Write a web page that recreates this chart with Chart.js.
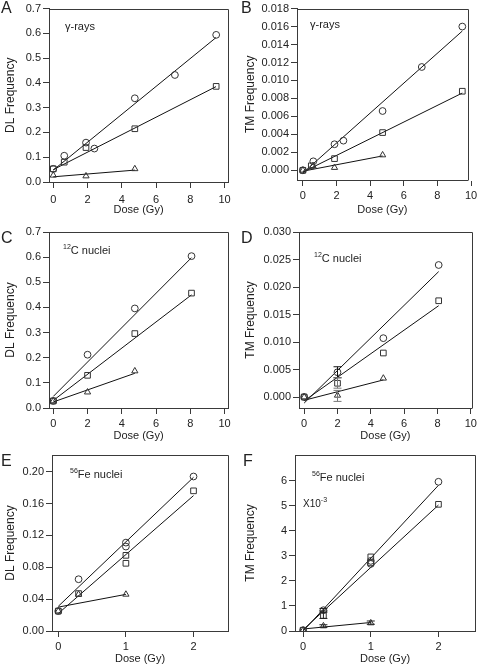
<!DOCTYPE html>
<html><head><meta charset="utf-8">
<script src="https://cdn.jsdelivr.net/npm/chart.js@4.4.1/dist/chart.umd.min.js"></script>
<style>
html,body{margin:0;padding:0;background:#fff;}
body{width:480px;height:667px;position:relative;overflow:hidden;font-family:"Liberation Sans",Arial,sans-serif;color:#222;}
.p{position:absolute;}
.lbl{position:absolute;font-size:11px;white-space:nowrap;line-height:1;}
.let{position:absolute;font-size:16px;line-height:1;}
sup{font-size:7px;vertical-align:5px;line-height:0;}
</style></head><body>
<div class="p" style="left:0;top:0;width:240px;height:218px"><canvas id="cA"></canvas></div>
<div class="p" style="left:240px;top:0;width:240px;height:218px"><canvas id="cB"></canvas></div>
<div class="p" style="left:0;top:222px;width:240px;height:222px"><canvas id="cC"></canvas></div>
<div class="p" style="left:240px;top:222px;width:240px;height:222px"><canvas id="cD"></canvas></div>
<div class="p" style="left:0;top:444px;width:240px;height:223px"><canvas id="cE"></canvas></div>
<div class="p" style="left:240px;top:444px;width:240px;height:223px"><canvas id="cF"></canvas></div>

<div class="let" style="left:1px;top:0px">A</div>
<div class="let" style="left:241px;top:0px">B</div>
<div class="let" style="left:1px;top:230px">C</div>
<div class="let" style="left:241px;top:230px">D</div>
<div class="let" style="left:1px;top:453px">E</div>
<div class="let" style="left:243px;top:453px">F</div>

<div class="lbl" style="left:65px;top:21px">γ-rays</div>
<div class="lbl" style="left:310px;top:19px">γ-rays</div>
<div class="lbl" style="left:63px;top:245px"><sup>12</sup>C nuclei</div>
<div class="lbl" style="left:314px;top:253px"><sup>12</sup>C nuclei</div>
<div class="lbl" style="left:70px;top:469px"><sup>56</sup>Fe nuclei</div>
<div class="lbl" style="left:312px;top:472px"><sup>56</sup>Fe nuclei</div>
<div class="lbl" style="left:303px;top:499px;font-size:10px">X10<sup>-3</sup></div>

<script>
// ---------- DATA ----------
// Panel A: gamma-rays, DL frequency
const doseA_circ = [0, 0.64, 1.91, 2.4, 4.76, 7.1, 9.51];
const dlA_circ   = [0.053, 0.106, 0.159, 0.135, 0.338, 0.432, 0.594];
const doseA_sq   = [0, 0.64, 1.91, 4.76, 9.51];
const dlA_sq     = [0.053, 0.080, 0.139, 0.215, 0.386];
const doseA_tri  = [0, 1.91, 4.76];
const dlA_tri    = [0.027, 0.024, 0.053];
const fitA_x     = [0, 9.5];
const fitA_circ  = [0.048, 0.583];
const fitA_sq    = [0.050, 0.385];
const fitA_triX  = [0, 4.76];
const fitA_tri   = [0.021, 0.048];

// Panel B: gamma-rays, TM frequency
const doseB_circ = [0, 0.62, 1.88, 2.41, 4.74, 7.07, 9.48];
const tmB_circ   = [0.0000, 0.0010, 0.0029, 0.0033, 0.0066, 0.0115, 0.0160];
const doseB_sq   = [0, 0.5, 1.88, 4.74, 9.48];
const tmB_sq     = [0.0000, 0.0005, 0.0013, 0.0042, 0.0088];
const doseB_tri  = [0, 0.6, 1.88, 4.74];
const tmB_tri    = [0.0000, 0.0005, 0.0003, 0.0017];
const fitB_x     = [0, 9.48];
const fitB_circ  = [-0.0003, 0.0155];
const fitB_sq    = [-0.0002, 0.0086];
const fitB_triX  = [0, 4.74];
const fitB_tri   = [-0.0001, 0.0016];

// Panel C: 12C nuclei, DL frequency
const doseC_circ = [0, 2, 4.76, 8.07];
const dlC_circ   = [0.028, 0.212, 0.396, 0.604];
const doseC_sq   = [0, 2, 4.76, 8.07];
const dlC_sq     = [0.028, 0.130, 0.296, 0.457];
const doseC_tri  = [0, 2, 4.76];
const dlC_tri    = [0.028, 0.063, 0.147];
const fitC_x     = [0, 8.07];
const fitC_circ  = [0.046, 0.598];
const fitC_sq    = [0.030, 0.450];
const fitC_triX  = [0, 4.76];
const fitC_tri   = [0.024, 0.138];

// Panel D: 12C nuclei, TM frequency
const doseD_circ = [0, 2, 4.75, 8.07];
const tmD_circ   = [0.0000, 0.0045, 0.0107, 0.0240];
const doseD_sq   = [0, 2, 4.75, 8.07];
const tmD_sq     = [0.0000, 0.0025, 0.0080, 0.0175];
const doseD_tri  = [0, 2, 4.75];
const tmD_tri    = [0.0000, 0.0003, 0.0034];
const fitD_x     = [0, 8.07];
const fitD_circ  = [-0.0011, 0.0228];
const fitD_sq    = [-0.0007, 0.0166];
const fitD_triX  = [0, 4.75];
const fitD_tri   = [-0.0006, 0.0031];
const errD_x     = [2, 2, 2];
const errD_lo    = [0.0035, 0.0016, -0.0008];
const errD_hi    = [0.0055, 0.0035, 0.0012];

// Panel E: 56Fe nuclei, DL frequency
const doseE_circ = [0, 0.3, 1, 1, 2];
const dlE_circ   = [0.025, 0.065, 0.111, 0.106, 0.194];
const doseE_sq   = [0, 0.3, 1, 1, 2];
const dlE_sq     = [0.025, 0.047, 0.095, 0.085, 0.176];
const doseE_tri  = [0, 0.3, 1];
const dlE_tri    = [0.025, 0.046, 0.046];
const fitE_x     = [0, 2];
const fitE_circ  = [0.031, 0.193];
const fitE_sq    = [0.022, 0.170];
const fitE_triX  = [0, 1];
const fitE_tri   = [0.030, 0.046];

// Panel F: 56Fe nuclei, TM frequency (x10^-3)
const doseF_circ = [0, 0.3, 1, 1, 2];
const tmF_circ   = [0.03, 0.83, 2.68, 2.80, 5.96];
const doseF_sq   = [0, 0.3, 1, 1, 2];
const tmF_sq     = [0.03, 0.62, 2.96, 2.72, 5.06];
const doseF_tri  = [0, 0.3, 1];
const tmF_tri    = [0.03, 0.20, 0.32];
const fitF_x     = [0, 2];
const fitF_circ  = [0.00, 5.82];
const fitF_sq    = [0.05, 5.03];
const fitF_triX  = [0, 1];
const fitF_tri   = [0.08, 0.34];
const errF_x     = [0.3, 0.3, 0.3, 1];
const errF_lo    = [0.75, 0.50, 0.15, 0.27];
const errF_hi    = [0.90, 0.80, 0.25, 0.40];

// Tick labels
const xTicks10  = [0, 2, 4, 6, 8, 10];
const xTicks2   = [0, 1, 2];
const yTicksA   = [0.0, 0.1, 0.2, 0.3, 0.4, 0.5, 0.6, 0.7];
const yTicksB   = [0.000, 0.002, 0.004, 0.006, 0.008, 0.010, 0.012, 0.014, 0.016, 0.018];
const yTicksC   = [0.0, 0.1, 0.2, 0.3, 0.4, 0.5, 0.6, 0.7];
const yTicksD   = [0.000, 0.005, 0.010, 0.015, 0.020, 0.025, 0.030];
const yTicksE   = [0.00, 0.04, 0.08, 0.12, 0.16, 0.20];
const yTicksF   = [0, 1, 2, 3, 4, 5, 6];

// ---------- RENDERING ----------
const FONT = '"Liberation Sans", Arial, sans-serif';
const AX = '#3a3a3a';
const zip = (xs, ys) => xs.map((x, i) => ({x: x, y: ys[i]}));

const boxPlugin = {
  id: 'boxframe',
  afterDraw(chart) {
    const a = chart.chartArea, c = chart.ctx;
    c.save();
    c.strokeStyle = AX; c.lineWidth = 1;
    c.beginPath();
    c.moveTo(Math.round(a.left) + 0.5, Math.round(a.top) + 0.5);
    c.lineTo(Math.round(a.right) + 0.5, Math.round(a.top) + 0.5);
    c.lineTo(Math.round(a.right) + 0.5, Math.round(a.bottom) + 0.5);
    c.stroke();
    c.restore();
  }
};
const errPlugin = {
  id: 'errbars',
  afterDatasetsDraw(chart, args, opts) {
    if (!opts || !opts.x) return;
    const xs = chart.scales.x, ys = chart.scales.y, c = chart.ctx;
    c.save();
    c.lineWidth = 1;
    opts.x.forEach((xv, i) => {
      const px = xs.getPixelForValue(xv);
      const lo = ys.getPixelForValue(opts.lo[i]);
      const hi = ys.getPixelForValue(opts.hi[i]);
      c.strokeStyle = (opts.colors && opts.colors[i]) || '#222';
      c.beginPath();
      c.moveTo(px, lo); c.lineTo(px, hi);
      c.moveTo(px - 4, lo); c.lineTo(px + 4, lo);
      c.moveTo(px - 4, hi); c.lineTo(px + 4, hi);
      c.stroke();
    });
    c.restore();
  }
};

function makePanel(id, cfg) {
  const pts = (xs, ys, style, r) => ({
    type: 'scatter', data: zip(xs, ys), pointStyle: style, pointRadius: r,
    pointHoverRadius: r, pointBorderColor: '#333', pointBackgroundColor: 'rgba(255,255,255,0)',
    pointBorderWidth: 1, showLine: false, order: 1
  });
  const fit = (xs, ys) => ({
    type: 'scatter', data: zip(xs, ys), showLine: true, pointRadius: 0,
    borderColor: '#111', borderWidth: 1, order: 2
  });
  const datasets = [
    fit(cfg.fx, cfg.fc), fit(cfg.fx, cfg.fs), fit(cfg.ftx, cfg.ft),
    pts(cfg.xc, cfg.yc, 'circle', 3.4), pts(cfg.xs, cfg.ys, 'rect', 4), pts(cfg.xt, cfg.yt, 'triangle', 3.6)
  ];
  const tickFont = {family: FONT, size: 11};
  new Chart(document.getElementById(id), {
    type: 'scatter',
    data: {datasets},
    plugins: [boxPlugin, errPlugin],
    options: {
      responsive: true, maintainAspectRatio: false, animation: false,
      layout: {padding: {left: cfg.pl, top: cfg.pt, right: cfg.pr, bottom: 0}},
      plugins: {legend: {display: false}, tooltip: {enabled: false},
        errbars: cfg.err || {}},
      scales: {
        x: {
          type: 'linear', min: cfg.xmin, max: cfg.xmax,
          afterBuildTicks: s => { s.ticks = cfg.xticks.map(v => ({value: v})); },
          afterFit: s => { s.height = cfg.xh; },
          grid: {drawOnChartArea: false, drawTicks: true, tickLength: 6, color: AX},
          border: {display: true, color: AX, width: 1},
          ticks: {font: tickFont, color: '#222', padding: cfg.xpad || 3, maxRotation: 0,
            callback: v => String(v)},
          title: {display: true, text: 'Dose (Gy)', font: {family: FONT, size: 11}, color: '#222',
            padding: {top: 0, bottom: 1}}
        },
        y: {
          type: 'linear', min: cfg.ymin, max: cfg.ymax,
          afterBuildTicks: s => { s.ticks = cfg.yticks.map(v => ({value: v})); },
          afterFit: s => { s.width = cfg.yw; },
          grid: {drawOnChartArea: false, drawTicks: true, tickLength: 6, color: AX},
          border: {display: true, color: AX, width: 1},
          ticks: {font: tickFont, color: '#222', padding: 2,
            callback: v => Number(v).toFixed(cfg.dec)},
          title: {display: true, text: cfg.ytitle, font: {family: FONT, size: 12}, color: '#222',
            padding: {top: 3, bottom: 0}}
        }
      }
    }
  });
}

makePanel('cA', {xc: doseA_circ, yc: dlA_circ, xs: doseA_sq, ys: dlA_sq, xt: doseA_tri, yt: dlA_tri,
  fx: fitA_x, fc: fitA_circ, fs: fitA_sq, ftx: fitA_triX, ft: fitA_tri,
  xmin: -0.25, xmax: 10.2, ymin: 0, ymax: 0.7, xticks: xTicks10, yticks: yTicksA, dec: 1,
  ytitle: 'DL Frequency', pl: 0, pt: 5, pr: 12, yw: 49, xh: 36, xpad: 5});
makePanel('cB', {xc: doseB_circ, yc: tmB_circ, xs: doseB_sq, ys: tmB_sq, xt: doseB_tri, yt: tmB_tri,
  fx: fitB_x, fc: fitB_circ, fs: fitB_sq, ftx: fitB_triX, ft: fitB_tri,
  xmin: -0.35, xmax: 9.81, ymin: -0.00108, ymax: 0.018, xticks: xTicks10, yticks: yTicksB, dec: 3,
  ytitle: 'TM Frequency', pl: 0, pt: 4, pr: 9, yw: 57, xh: 38});
makePanel('cC', {xc: doseC_circ, yc: dlC_circ, xs: doseC_sq, ys: dlC_sq, xt: doseC_tri, yt: dlC_tri,
  fx: fitC_x, fc: fitC_circ, fs: fitC_sq, ftx: fitC_triX, ft: fitC_tri,
  xmin: -0.25, xmax: 10.2, ymin: 0, ymax: 0.7, xticks: xTicks10, yticks: yTicksC, dec: 1,
  ytitle: 'DL Frequency', pl: 0, pt: 10, pr: 12, yw: 49, xh: 36});
makePanel('cD', {xc: doseD_circ, yc: tmD_circ, xs: doseD_sq, ys: tmD_sq, xt: doseD_tri, yt: tmD_tri,
  fx: fitD_x, fc: fitD_circ, fs: fitD_sq, ftx: fitD_triX, ft: fitD_tri,
  xmin: -0.31, xmax: 10.06, ymin: -0.002, ymax: 0.030, xticks: xTicks10, yticks: yTicksD, dec: 3,
  ytitle: 'TM Frequency', pl: 0, pt: 10, pr: 4, yw: 59, xh: 36,
  err: {x: errD_x, lo: errD_lo, hi: errD_hi, colors: ['#111', '#777', '#777']}});
makePanel('cE', {xc: doseE_circ, yc: dlE_circ, xs: doseE_sq, ys: dlE_sq, xt: doseE_tri, yt: dlE_tri,
  fx: fitE_x, fc: fitE_circ, fs: fitE_sq, ftx: fitE_triX, ft: fitE_tri,
  xmin: -0.093, xmax: 2.51, ymin: 0, ymax: 0.221, xticks: xTicks2, yticks: yTicksE, dec: 2,
  ytitle: 'DL Frequency', pl: 0, pt: 11, pr: 12, yw: 52, xh: 36});
makePanel('cF', {xc: doseF_circ, yc: tmF_circ, xs: doseF_sq, ys: tmF_sq, xt: doseF_tri, yt: tmF_tri,
  fx: fitF_x, fc: fitF_circ, fs: fitF_sq, ftx: fitF_triX, ft: fitF_tri,
  xmin: -0.12, xmax: 2.54, ymin: 0, ymax: 7.03, xticks: xTicks2, yticks: yTicksF, dec: 0,
  ytitle: 'TM Frequency', pl: 0, pt: 11, pr: 4, yw: 55, xh: 36,
  err: {x: errF_x, lo: errF_lo, hi: errF_hi}});
</script>
</body></html>
